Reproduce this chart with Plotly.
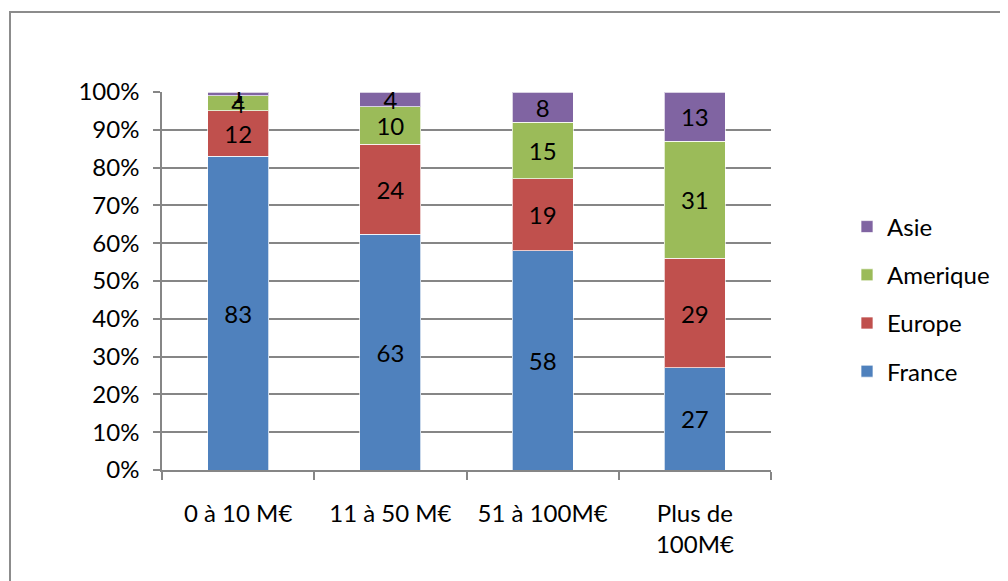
import plotly.graph_objects as go

categories = ["0 à 10 M€", "11 à 50 M€", "51 à 100M€", "Plus de<br>100M€"]
series_names = ["France", "Europe", "Amerique", "Asie"]
france = [83, 63, 58, 27]
europe = [12, 24, 19, 29]
amerique = [4, 10, 15, 31]
asie = [1, 4, 8, 13]
colors = ["#4F81BD", "#C0504D", "#9BBB59", "#8064A2"]
y_tickvals = [0, 10, 20, 30, 40, 50, 60, 70, 80, 90, 100]
y_ticktext = [f"{v}%" for v in y_tickvals]

FONT = "Lato"
FS = 24

fig = go.Figure()
for i, (name, vals, col) in enumerate(zip(series_names, [france, europe, amerique, asie], colors)):
    fig.add_trace(go.Bar(
        x=categories, y=vals, name=name, legendgroup=name,
        legendrank=len(series_names) - i,
        marker=dict(color=col, line=dict(color="rgba(255,255,255,0.7)", width=1)),
        text=[str(v) for v in vals], textposition="inside", textangle=0,
        insidetextanchor="middle", constraintext="none",
        textfont=dict(color="black", size=FS, family=FONT),
        hoverinfo="skip",
    ))

# page has an 8px body margin: figure is drawn from (8, 8)
OFF = 8
W, H = 1000, 573
L, R, T, B = 162 - OFF, 237, 92 - OFF, 111
pw, ph = W - L - R, H - T - B

def px_x(x):
    return (x - OFF - L) / pw

def px_y(y):
    return (H - B - (y - OFF)) / ph

fig.update_layout(
    width=W, height=H,
    margin=dict(l=L, r=R, t=T, b=B, autoexpand=False),
    barmode="stack", barnorm="percent", bargap=0.6,
    paper_bgcolor="white", plot_bgcolor="white",
    font=dict(family=FONT, size=FS, color="black"),
    uniformtext=dict(minsize=FS, mode="show"),
    legend=dict(
        traceorder="grouped", x=px_x(847), xanchor="left",
        y=px_y(299), yanchor="middle", tracegroupgap=14,
        font=dict(family=FONT, size=FS, color="black"),
        bgcolor="rgba(0,0,0,0)",
    ),
    xaxis=dict(
        showgrid=False, showline=True, linecolor="#868686", linewidth=1.5,
        ticks="outside", tickson="boundaries", ticklen=8, tickcolor="#868686",
        tickwidth=1.5, ticklabelstandoff=21,
        tickfont=dict(family=FONT, size=FS, color="black"),
    ),
    yaxis=dict(
        range=[0, 100], tickvals=y_tickvals, ticktext=y_ticktext,
        showgrid=True, gridcolor="#868686", gridwidth=1.5,
        showline=True, linecolor="#868686", linewidth=1.5,
        ticks="outside", ticklen=7, tickcolor="#868686", tickwidth=1.5,
        ticklabelstandoff=9, zeroline=False,
        tickfont=dict(family=FONT, size=FS, color="black"),
    ),
    shapes=[dict(
        type="path", xref="paper", yref="paper",
        path=f"M {px_x(10)},{px_y(600)} L {px_x(10)},{px_y(12)} L {px_x(1007)},{px_y(12)}",
        line=dict(color="#8c8c8c", width=2),
    )],
)

fig.write_html("out.html")
